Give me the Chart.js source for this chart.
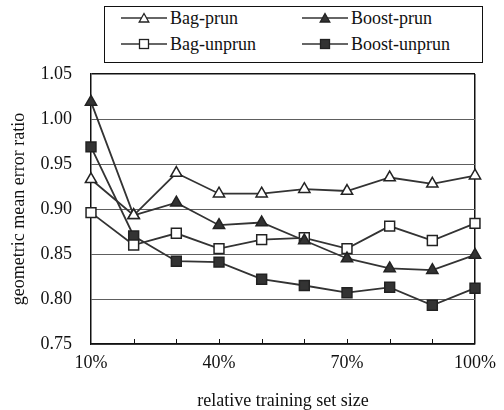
<!DOCTYPE html>
<html>
<head>
<meta charset="utf-8">
<script src="https://cdn.jsdelivr.net/npm/chart.js@4/dist/chart.umd.min.js"></script>
<style>
  html, body { margin: 0; padding: 0; background: #fff; }
  #wrap { position: relative; width: 504px; height: 410px; }
  #legend {
    position: absolute; left: 104px; top: 6px; width: 377px; height: 55px;
    border: 1px solid #111; background: #fff;
    font-family: 'Liberation Serif', 'Times New Roman', serif; font-size: 18px; color: #111;
  }
  .item { position: absolute; display: flex; align-items: center; height: 20px; white-space: nowrap; }
  .item svg { margin-right: 3px; }
</style>
</head>
<body>
<div id="wrap">
  <canvas id="c" width="504" height="410"></canvas>
  <div id="legend"></div>
</div>
<script>
const categories = ['10%', '20%', '30%', '40%', '50%', '60%', '70%', '80%', '90%', '100%'];
const bagPrun     = [0.933, 0.893, 0.940, 0.917, 0.917, 0.922, 0.920, 0.935, 0.928, 0.937];
const boostPrun   = [1.019, 0.893, 0.907, 0.882, 0.885, 0.865, 0.845, 0.834, 0.832, 0.849];
const bagUnprun   = [0.896, 0.860, 0.873, 0.856, 0.866, 0.868, 0.856, 0.881, 0.865, 0.884];
const boostUnprun = [0.969, 0.870, 0.842, 0.841, 0.822, 0.815, 0.807, 0.813, 0.793, 0.812];
const shownTickLabels = ['10%', '40%', '70%', '100%'];
const yTickMin = 0.75, yTickMax = 1.05, yTickStep = 0.05;

const LINE = '#333333';
const FONT = "'Liberation Serif', 'Times New Roman', serif";

const seriesDefs = [
  { label: 'Bag-prun',     data: bagPrun,     style: 'triangle', fill: '#ffffff' },
  { label: 'Boost-prun',   data: boostPrun,   style: 'triangle', fill: '#333333' },
  { label: 'Bag-unprun',   data: bagUnprun,   style: 'rect',     fill: '#ffffff' },
  { label: 'Boost-unprun', data: boostUnprun, style: 'rect',     fill: '#333333' }
];

const datasets = seriesDefs.map(s => ({
  label: s.label,
  data: s.data,
  borderColor: LINE,
  borderWidth: 1.8,
  pointStyle: s.style,
  pointRadius: s.style === 'rect' ? 7 : 6.5,
  pointBackgroundColor: s.fill,
  pointBorderColor: '#222',
  pointBorderWidth: 1.5,
  tension: 0,
  fill: false
}));

const innerTicks = {
  id: 'innerTicks',
  afterDatasetsDraw(chart) {
    const xs = chart.scales.x, ctx = chart.ctx, b = chart.chartArea.bottom;
    ctx.save();
    ctx.strokeStyle = '#111';
    ctx.lineWidth = 1;
    for (let i = 1; i < xs.ticks.length - 1; i++) {
      const px = Math.round(xs.getPixelForTick(i)) + 0.5;
      ctx.beginPath();
      ctx.moveTo(px, b);
      ctx.lineTo(px, b - 5);
      ctx.stroke();
    }
    ctx.restore();
  }
};

new Chart(document.getElementById('c'), {
  type: 'line',
  data: { labels: categories, datasets },
  plugins: [innerTicks],
  options: {
    responsive: false,
    devicePixelRatio: 1,
    animation: false,
    layout: { padding: { top: 74, right: 23, left: 0, bottom: 0 } },
    plugins: { legend: { display: false }, tooltip: { enabled: false } },
    scales: {
      x: {
        type: 'category',
        offset: false,
        afterFit: s => { s.height = 66; },
        border: { display: true, color: '#111', width: 1.5 },
        grid: {
          drawTicks: false,
          color: ctx => (ctx.index === categories.length - 1 ? '#111' : 'rgba(0,0,0,0)'),
          lineWidth: 1.5
        },
        ticks: {
          autoSkip: false, maxRotation: 0, padding: 8,
          color: '#111', font: { family: FONT, size: 18 },
          callback: function (v, i) {
            const l = categories[i];
            return shownTickLabels.includes(l) ? l : '';
          }
        },
        title: {
          display: true, text: 'relative training set size',
          color: '#111', font: { family: FONT, size: 18, lineHeight: 1 },
          padding: { top: 4, bottom: 0 }
        }
      },
      y: {
        min: yTickMin, max: yTickMax,
        afterFit: s => { s.width = 91; },
        border: { display: true, color: '#111', width: 1.5 },
        grid: {
          drawTicks: false,
          color: ctx => {
            const v = ctx.tick.value;
            if (Math.abs(v - yTickMax) < 1e-6) return '#111';
            return '#5e5e5e';
          },
          lineWidth: ctx => (Math.abs(ctx.tick.value - yTickMax) < 1e-6 ? 1.5 : 1)
        },
        ticks: {
          stepSize: yTickStep, padding: 19,
          color: '#111', font: { family: FONT, size: 18 },
          callback: v => Number(v).toFixed(2)
        },
        title: {
          display: true, text: 'geometric mean error ratio',
          color: '#111', font: { family: FONT, size: 18 },
          padding: { top: 8, bottom: 4 }
        }
      }
    }
  }
});

// HTML legend
function markerSvg(style, fill) {
  let m;
  if (style === 'triangle') {
    m = `<polygon points="23,2.5 18.2,11 27.8,11" fill="${fill}" stroke="#222" stroke-width="1.3"/>`;
  } else {
    m = `<rect x="18.5" y="2.5" width="9" height="9" fill="${fill}" stroke="#222" stroke-width="1.3"/>`;
  }
  return `<svg width="46" height="14" viewBox="0 0 46 14"><line x1="0" y1="7" x2="46" y2="7" stroke="${LINE}" stroke-width="1.5"/>${m}</svg>`;
}
const legendPos = [
  { left: 16, top: 0 }, { left: 197, top: 0 },
  { left: 16, top: 26 }, { left: 197, top: 26 }
];
const legendEl = document.getElementById('legend');
seriesDefs.forEach((s, i) => {
  const d = document.createElement('div');
  d.className = 'item';
  d.style.left = legendPos[i].left + 'px';
  d.style.top = (legendPos[i].top + 1) + 'px';
  d.innerHTML = markerSvg(s.style, s.fill) + '<span>' + s.label + '</span>';
  legendEl.appendChild(d);
});
</script>
</body>
</html>
